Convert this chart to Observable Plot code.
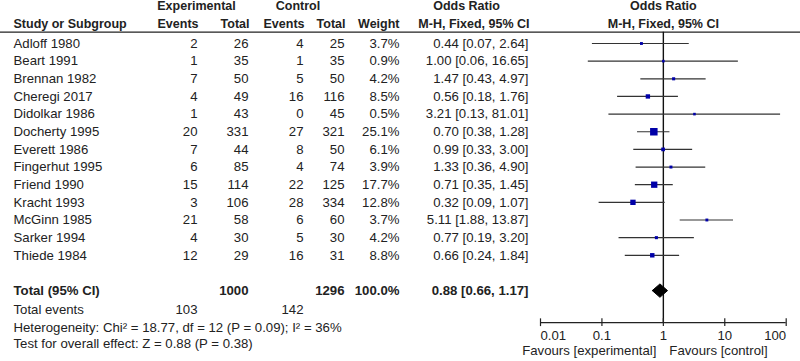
<!DOCTYPE html>
<html>
<head>
<meta charset="utf-8">
<script src="https://cdn.jsdelivr.net/npm/d3@7"></script>
<script src="https://cdn.jsdelivr.net/npm/@observablehq/plot@0.6"></script>
<style>
  html, body { margin: 0; padding: 0; background: #fff; }
  #chart { width: 800px; height: 361px; }
</style>
</head>
<body>
<div id="chart"></div>
<script>
// ---- data ----
const studies = ["Adloff 1980", "Beart 1991", "Brennan 1982", "Cheregi 2017", "Didolkar 1986", "Docherty 1995", "Everett 1986", "Fingerhut 1995", "Friend 1990", "Kracht 1993", "McGinn 1985", "Sarker 1994", "Thiede 1984"];
const expEvents = [2, 1, 7, 4, 1, 20, 7, 6, 15, 3, 21, 4, 12];
const expTotal = [26, 35, 50, 49, 43, 331, 44, 85, 114, 106, 58, 30, 29];
const ctlEvents = [4, 1, 5, 16, 0, 27, 8, 4, 22, 28, 6, 5, 16];
const ctlTotal = [25, 35, 50, 116, 45, 321, 50, 74, 125, 334, 60, 30, 31];
const weights = [3.7, 0.9, 4.2, 8.5, 0.5, 25.1, 6.1, 3.9, 17.7, 12.8, 3.7, 4.2, 8.8];
const orEst = [0.44, 1.00, 1.47, 0.56, 3.21, 0.70, 0.99, 1.33, 0.71, 0.32, 5.11, 0.77, 0.66];
const orLo = [0.07, 0.06, 0.43, 0.18, 0.13, 0.38, 0.33, 0.36, 0.35, 0.09, 1.88, 0.19, 0.24];
const orHi = [2.64, 16.65, 4.97, 1.76, 81.01, 1.28, 3.00, 4.90, 1.45, 1.07, 13.87, 3.20, 1.84];

const totalLabel = "Total (95% CI)";
const totalExp = 1000, totalCtl = 1296, totalWeight = 100.0;
const totalOR = 0.88, totalLo = 0.66, totalHi = 1.17;
const totalEventsExp = 103, totalEventsCtl = 142;
const heterogeneityText = "Heterogeneity: Chi² = 18.77, df = 12 (P = 0.09); I² = 36%";
const overallText = "Test for overall effect: Z = 0.88 (P = 0.38)";
const axisTicks = [0.01, 0.1, 1, 10, 100];
const tickLabels = ["0.01", "0.1", "1", "10", "100"];
const favoursLeft = "Favours [experimental]";
const favoursRight = "Favours [control]";

// ---- table built from arrays ----
const rows = studies.map((s, i) => ({
  study: s, row: i,
  ee: expEvents[i], et: expTotal[i], ce: ctlEvents[i], ct: ctlTotal[i],
  w: weights[i], est: orEst[i], lo: orLo[i], hi: orHi[i]
}));
const fmtOR = (e, l, h) => `${e.toFixed(2)} [${l.toFixed(2)}, ${h.toFixed(2)}]`;

// ---- layout (row units / pixel columns) ----
const L = {
  head1: -2.1, head2: -1.08, headLine: -0.64,
  total: 14, totalEvents: 15.07, het: 16.09, test: 17.0,
  axis: 15.82, tickHalf: 0.22, tickLab: 16.58, favours: 17.4,
  colStudy: 13, colEE: 197, colET: 248, colCE: 303, colCT: 344, colW: 399, colOR: 528,
  diamondHalf: 0.38
};
const font = "'Liberation Sans', Arial, sans-serif";
const ink = "#222";

const diamond = [
  {x: totalLo, y: L.total}, {x: totalOR, y: L.total - L.diamondHalf},
  {x: totalHi, y: L.total}, {x: totalOR, y: L.total + L.diamondHalf},
  {x: totalLo, y: L.total}
];

const colText = (data, field, col, extra = {}) =>
  Plot.text(data, {y: "row", text: field, frameAnchor: "left", dx: col, textAnchor: "end", fill: ink, ...extra});

const hdr = (txt, y, dx, anchor, extra = {}) =>
  Plot.text([txt], {y: () => y, text: d => d, frameAnchor: "left", dx, textAnchor: anchor, fill: ink, fontWeight: "bold", fontSize: 12.5, ...extra});

const lineText = (value, y, dx, anchor, extra = {}) =>
  Plot.text([value], {y: () => y, text: d => String(d), frameAnchor: "left", dx, textAnchor: anchor, fill: ink, ...extra});

const chart = Plot.plot({
  width: 800, height: 361, margin: 0,
  style: {fontFamily: font, fontSize: "13.2px", background: "#fff", overflow: "visible"},
  x: {type: "log", domain: [0.01, 100], range: [540, 785.7], axis: null},
  y: {domain: [-43 / 17.65, 318 / 17.65], range: [0, 361], axis: null},
  r: {type: "sqrt", domain: [0, 25.1], range: [0, 7.5 / Math.sqrt(Math.PI)]},
  marks: [
    // headers
    hdr("Experimental", L.head1, 196, "middle"),
    hdr("Control", L.head1, 297.5, "middle"),
    hdr("Odds Ratio", L.head1, 466, "middle"),
    Plot.text(["Odds Ratio"], {x: 1, y: () => L.head1, text: d => d, fill: ink, fontWeight: "bold", fontSize: 12.5}),
    hdr("Study or Subgroup", L.head2, L.colStudy, "start"),
    hdr("Events", L.head2, L.colEE + 1, "end"),
    hdr("Total", L.head2, L.colET + 1, "end"),
    hdr("Events", L.head2, L.colCE + 1, "end"),
    hdr("Total", L.head2, L.colCT + 1, "end"),
    hdr("Weight", L.head2, L.colW, "end"),
    hdr("M-H, Fixed, 95% CI", L.head2, L.colOR + 1, "end"),
    Plot.text(["M-H, Fixed, 95% CI"], {x: 1, y: () => L.head2, text: d => d, fill: ink, fontWeight: "bold", fontSize: 12.5}),
    Plot.ruleY([L.headLine], {stroke: "#222", strokeWidth: 1.2}),

    // study rows
    Plot.text(rows, {y: "row", text: "study", frameAnchor: "left", dx: L.colStudy, textAnchor: "start", fill: ink}),
    colText(rows, d => String(d.ee), L.colEE),
    colText(rows, d => String(d.et), L.colET),
    colText(rows, d => String(d.ce), L.colCE),
    colText(rows, d => String(d.ct), L.colCT),
    colText(rows, d => d.w.toFixed(1) + "%", L.colW),
    colText(rows, d => fmtOR(d.est, d.lo, d.hi), L.colOR),

    // total row
    lineText(totalLabel, L.total, L.colStudy, "start", {fontWeight: "bold"}),
    lineText(totalExp, L.total, L.colET, "end", {fontWeight: "bold"}),
    lineText(totalCtl, L.total, L.colCT, "end", {fontWeight: "bold"}),
    lineText(totalWeight.toFixed(1) + "%", L.total, L.colW, "end", {fontWeight: "bold"}),
    lineText(fmtOR(totalOR, totalLo, totalHi), L.total, L.colOR, "end", {fontWeight: "bold"}),

    // footer
    lineText("Total events", L.totalEvents, L.colStudy, "start"),
    lineText(totalEventsExp, L.totalEvents, L.colEE, "end"),
    lineText(totalEventsCtl, L.totalEvents, L.colCE, "end"),
    lineText(heterogeneityText, L.het, L.colStudy, "start"),
    lineText(overallText, L.test, L.colStudy, "start"),

    // forest
    Plot.ruleX([1], {y1: L.headLine, y2: L.axis, stroke: "#111", strokeWidth: 1.4}),
    Plot.ruleY(rows, {y: "row", x1: "lo", x2: "hi", stroke: "#333", strokeWidth: 1.2}),
    Plot.dot(rows, {x: "est", y: "row", r: d => Math.max(d.w, 3), symbol: "square", fill: "#0000a8", stroke: null}),
    Plot.line(diamond, {x: "x", y: "y", fill: "#000", stroke: "#000", strokeWidth: 1}),

    // axis
    Plot.ruleY([L.axis], {x1: 0.01, x2: 100, stroke: "#222", strokeWidth: 1.2}),
    Plot.ruleX(axisTicks, {x: d => d, y1: L.axis - L.tickHalf, y2: L.axis + L.tickHalf, stroke: "#222", strokeWidth: 1.2}),
    Plot.text(axisTicks.slice(0, 1), {x: d => d, y: () => L.tickLab, text: () => tickLabels[0], textAnchor: "start", fill: ink}),
    Plot.text(axisTicks.slice(1, 4), {x: d => d, y: () => L.tickLab, text: (d, i) => tickLabels[i + 1], fill: ink}),
    Plot.text(axisTicks.slice(4), {x: d => d, y: () => L.tickLab, text: () => tickLabels[4], textAnchor: "end", fill: ink}),
    Plot.text([favoursLeft], {x: 1, y: () => L.favours, text: d => d, textAnchor: "end", dx: -7, fill: ink}),
    Plot.text([favoursRight], {x: 1, y: () => L.favours, text: d => d, textAnchor: "start", dx: 6, fill: ink})
  ]
});
document.getElementById("chart").appendChild(chart);
</script>
</body>
</html>
